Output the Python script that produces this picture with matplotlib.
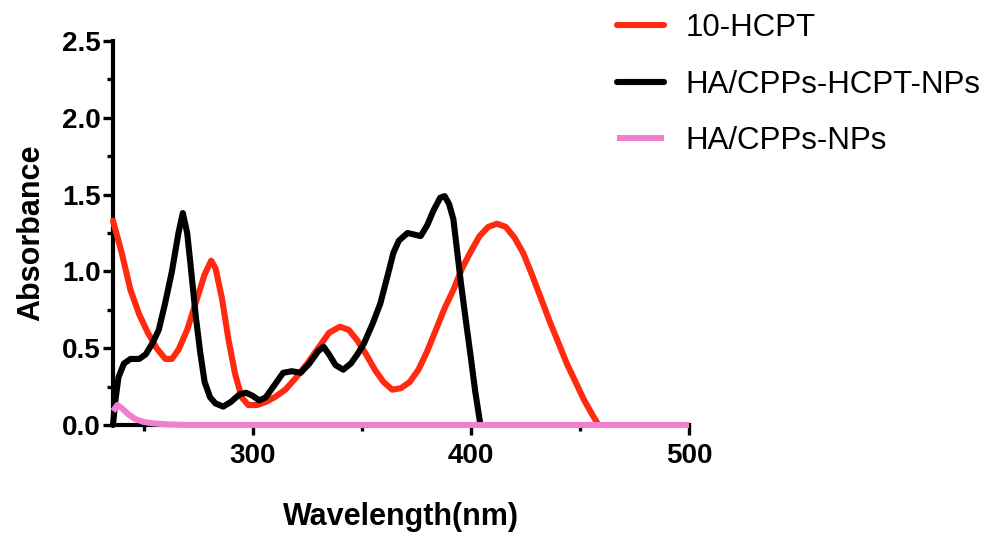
import numpy as np
import matplotlib
matplotlib.use("Agg")
import matplotlib.pyplot as plt
from matplotlib.ticker import MultipleLocator

plt.rcParams["font.family"] = ["Liberation Sans", "DejaVu Sans"]

# 10-HCPT (red)
hcpt_x = [236, 240, 244, 248, 252, 256, 260, 263, 266, 270, 274, 278, 281, 283, 286,
          289, 292, 295, 298, 302, 306, 310, 315, 320, 325, 330, 335, 340, 344, 348,
          352, 356, 360, 364, 368, 372, 376, 380, 384, 388, 392, 396, 400, 404, 408,
          412, 416, 420, 424, 428, 432, 436, 440, 444, 448, 452, 456, 458.5]
hcpt_y = [1.33, 1.12, 0.88, 0.72, 0.60, 0.50, 0.43, 0.43, 0.49, 0.62, 0.80, 0.98, 1.07, 1.02, 0.82,
          0.55, 0.33, 0.18, 0.13, 0.13, 0.15, 0.18, 0.23, 0.31, 0.40, 0.50, 0.60, 0.64, 0.62, 0.55,
          0.46, 0.36, 0.28, 0.23, 0.24, 0.28, 0.36, 0.48, 0.62, 0.76, 0.88, 1.02, 1.13, 1.23, 1.29,
          1.31, 1.29, 1.22, 1.12, 0.98, 0.83, 0.68, 0.54, 0.40, 0.28, 0.16, 0.06, 0.0]

# HA/CPPs-HCPT-NPs (black)
np_x = [236, 237, 238.5, 241, 244, 248, 251, 254, 257, 260, 263, 266, 268, 270, 272,
        274, 276, 278, 280.5, 283, 286.5, 290, 294, 297, 300, 303, 306, 310, 314, 318,
        322, 326, 330, 332.5, 335, 338, 341.5, 345, 348, 351, 355, 358.5, 362, 364.5, 367,
        371, 374, 377, 380, 383, 386, 388, 390, 392, 394, 395.5, 398, 400, 402, 404.4]
np_y = [0.0, 0.15, 0.31, 0.40, 0.43, 0.43, 0.46, 0.53, 0.62, 0.80, 1.00, 1.25, 1.38, 1.25, 0.98,
        0.70, 0.47, 0.28, 0.18, 0.14, 0.12, 0.15, 0.20, 0.21, 0.19, 0.16, 0.18, 0.26, 0.34, 0.35,
        0.34, 0.40, 0.48, 0.51, 0.46, 0.39, 0.36, 0.40, 0.46, 0.53, 0.66, 0.79, 0.98, 1.12, 1.20,
        1.25, 1.24, 1.23, 1.30, 1.40, 1.48, 1.49, 1.44, 1.34, 1.10, 0.92, 0.65, 0.44, 0.22, 0.0]

# HA/CPPs-NPs (pink)
blank_x = [236, 238, 240, 243, 246, 250, 255, 260, 270, 500]
blank_y = [0.09, 0.13, 0.11, 0.07, 0.04, 0.02, 0.01, 0.005, 0.0, 0.0]

fig = plt.figure(figsize=(9.84, 5.33), dpi=100)
ax = fig.add_axes([113/984, 1 - 425/533, (689 - 113)/984, (425 - 41)/533])

lw = 4.4
ax.plot(hcpt_x, hcpt_y, color="#ff2a10", lw=lw, solid_capstyle="round",
        solid_joinstyle="round", label="10-HCPT", clip_on=False, zorder=3)
ax.plot(np_x, np_y, color="black", lw=lw, solid_capstyle="round",
        solid_joinstyle="round", label="HA/CPPs-HCPT-NPs", clip_on=False, zorder=4)
ax.plot(blank_x, blank_y, color="#f07fd0", lw=lw, solid_capstyle="butt",
        label="HA/CPPs-NPs", clip_on=False, zorder=5)

ax.set_xlim(236, 500)
ax.set_ylim(0, 2.5)
ax.xaxis.set_major_locator(MultipleLocator(100))
ax.xaxis.set_minor_locator(MultipleLocator(50))
ax.yaxis.set_major_locator(MultipleLocator(0.5))
ax.yaxis.set_minor_locator(MultipleLocator(0.25))
ax.yaxis.set_major_formatter(plt.FuncFormatter(lambda v, p: f"{v:.1f}"))

for s in ["top", "right"]:
    ax.spines[s].set_visible(False)
for s in ["left", "bottom"]:
    ax.spines[s].set_linewidth(3.0)

ax.tick_params(axis="both", which="major", length=7, width=2.4, labelsize=20)
ax.tick_params(axis="both", which="minor", length=4.5, width=2.4)
ax.tick_params(axis="y", which="major", pad=2)
ax.tick_params(axis="x", which="major", pad=6)
for t in ax.get_xticklabels() + ax.get_yticklabels():
    t.set_fontweight("bold")

ax.set_xlabel("Wavelength(nm)", fontsize=22, fontweight="bold", labelpad=24)
ax.set_ylabel("Absorbance", fontsize=22, fontweight="bold", labelpad=11)

fig.legend(loc="upper left", bbox_to_anchor=(617/984, 1 - 13/533), frameon=False,
           fontsize=22.5, handlelength=1.5, handletextpad=0.7, labelspacing=0.85,
           borderpad=0, borderaxespad=0)

fig.savefig("out.png", dpi=100)
